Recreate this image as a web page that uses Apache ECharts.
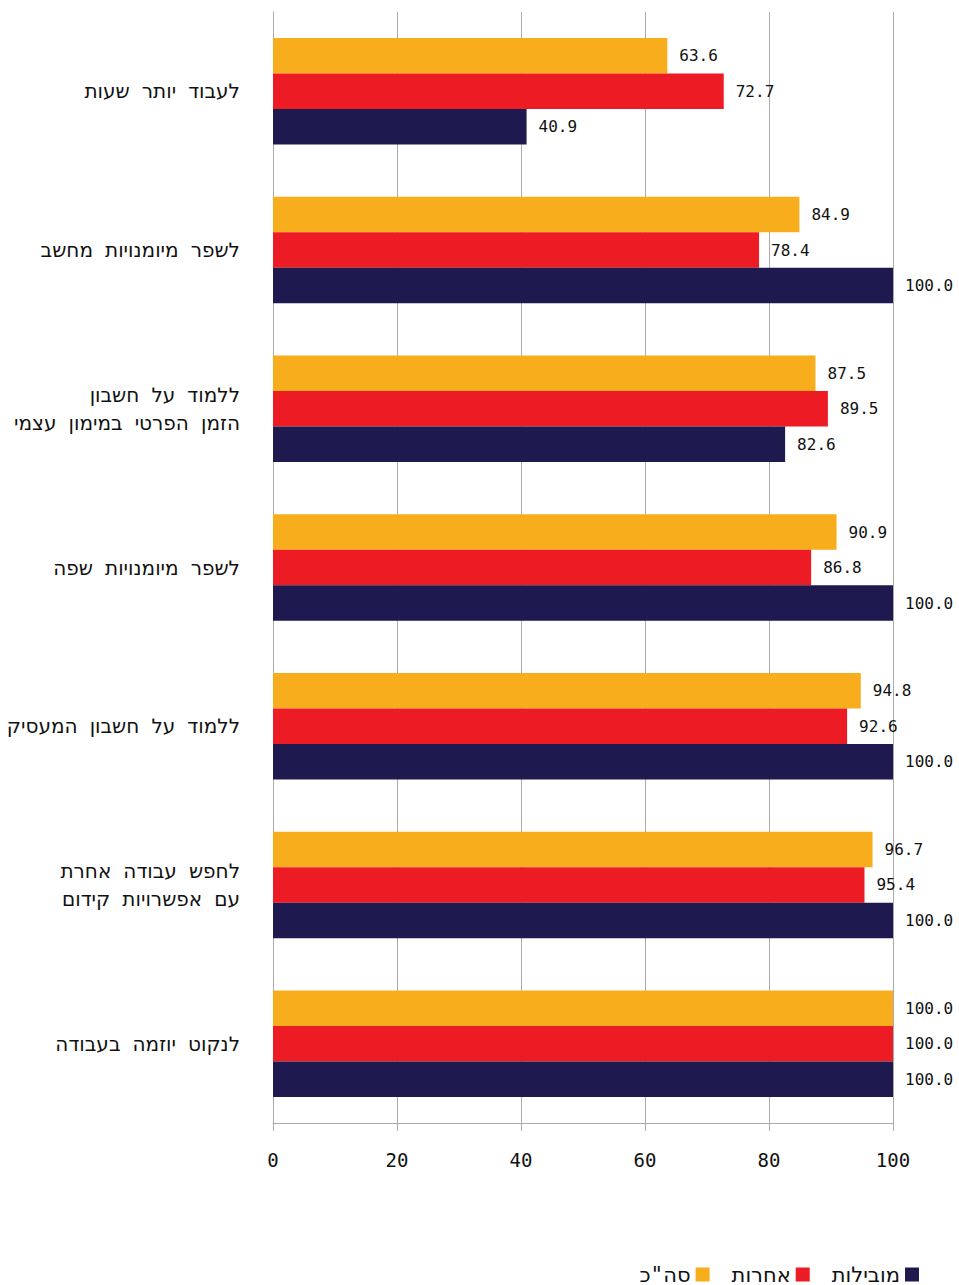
<!DOCTYPE html>
<html><head><meta charset="utf-8">
<script src="https://cdn.jsdelivr.net/npm/echarts@6/dist/echarts.min.js"></script>
<style>html,body{margin:0;padding:0;background:#fff}#c{width:959px;height:1285px}</style>
</head><body><div id="c"></div>
<script>
const categories = ['לעבוד יותר שעות','לשפר מיומנויות מחשב','ללמוד על חשבון\nהזמן הפרטי במימון עצמי','לשפר מיומנויות שפה','ללמוד על חשבון המעסיק','לחפש עבודה אחרת\nעם אפשרויות קידום','לנקוט יוזמה בעבודה'];
const totalVals = [63.6, 84.9, 87.5, 90.9, 94.8, 96.7, 100.0];
const otherVals = [72.7, 78.4, 89.5, 86.8, 92.6, 95.4, 100.0];
const leadingVals = [40.9, 100.0, 82.6, 100.0, 100.0, 100.0, 100.0];
const xTicks = [0, 20, 40, 60, 80, 100];
const seriesNames = ['סה"כ', 'אחרות', 'מובילות'];

const MONO = '"DejaVu Sans Mono", "DejaVu Sans", sans-serif';
const chart = echarts.init(document.getElementById('c'), null, {renderer:'svg'});
const lbl = {show:true, position:'right', distance:12, color:'#111', fontSize:16, fontFamily:MONO, formatter:p=>p.value.toFixed(1)};
function s(name, data, color){
  return {name, type:'bar', data, barWidth:35.5, barGap:'0%', itemStyle:{color}, label:lbl, animation:false};
}
chart.setOption({
  animation:false,
  grid:{left:273, right:66, top:12, bottom:162, containLabel:false},
  legend:{
    data:[seriesNames[0], seriesNames[1], seriesNames[2]],
    bottom:0, right:40, padding:0, align:'right', icon:'rect', itemWidth:14, itemHeight:14, itemGap:22,
    textStyle:{fontSize:21, fontFamily:MONO, color:'#111'}
  },
  xAxis:{type:'value', min:xTicks[0], max:xTicks[xTicks.length-1], interval:20,
    axisLine:{show:true, lineStyle:{color:'#aaa', width:1}},
    axisTick:{show:true, length:8, lineStyle:{color:'#aaa'}},
    splitLine:{show:true, lineStyle:{color:'#aaa', width:1}},
    axisLabel:{margin:27, fontSize:19, fontFamily:MONO, color:'#111'}
  },
  yAxis:{type:'category', data:categories, inverse:true,
    axisLine:{show:true, lineStyle:{color:'#aaa', width:1}},
    axisTick:{show:false},
    axisLabel:{margin:33, fontSize:20, lineHeight:28, fontFamily:MONO, color:'#111', align:'right'}
  },
  series:[s(seriesNames[0], totalVals, '#F8AD1D'), s(seriesNames[1], otherVals, '#ED1C24'), s(seriesNames[2], leadingVals, '#1E1A4F')]
});
</script></body></html>
